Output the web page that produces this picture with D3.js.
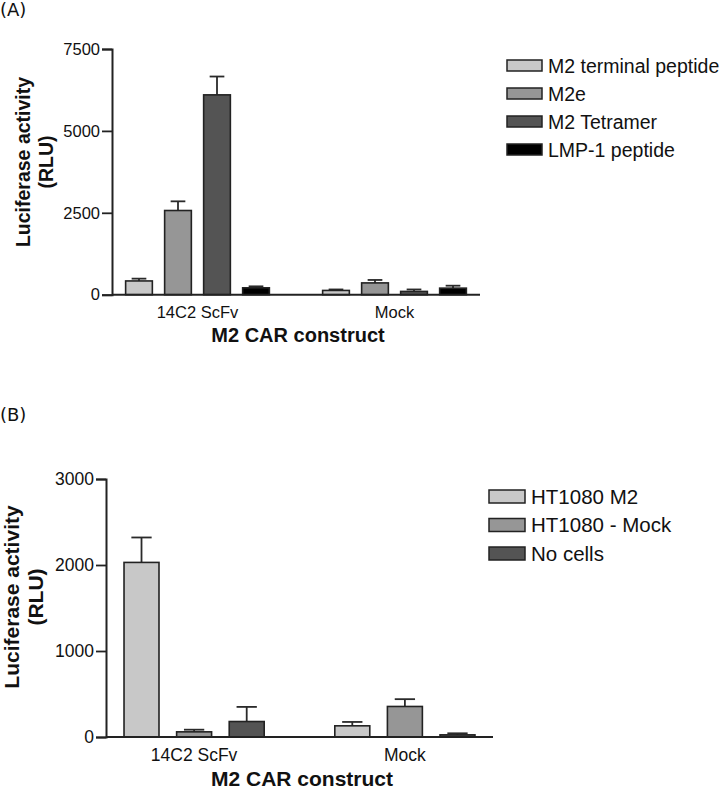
<!DOCTYPE html>
<html><head><meta charset="utf-8">
<script src="https://cdn.jsdelivr.net/npm/d3@7"></script>
<style>body{margin:0;background:#fff}svg{display:block}</style>
</head><body>
<script>
// ---- Data ----
const groups = ["14C2 ScFv", "Mock"];
const seriesA = ["M2 terminal peptide", "M2e", "M2 Tetramer", "LMP-1 peptide"];
const valuesA = [[420, 2570, 6100, 210], [130, 360, 100, 200]];
const errorsA = [[70, 280, 560, 45], [30, 90, 60, 75]];
const ticksA = [0, 2500, 5000, 7500];
const colorsA = ["#c8c8c8", "#969696", "#545454", "#000000"];

const seriesB = ["HT1080 M2", "HT1080 - Mock", "No cells"];
const valuesB = [[2030, 60, 180], [130, 355, 25]];
const errorsB = [[290, 25, 170], [45, 85, 18]];
const ticksB = [0, 1000, 2000, 3000];
const colorsB = ["#c8c8c8", "#969696", "#545454"];

const W = 722, H = 789;
const svg = d3.select("body").append("svg").attr("width", W).attr("height", H);
const FONT = "'Liberation Sans', Arial, sans-serif";

function panel(cfg) {
  const g = svg.append("g");
  const y = d3.scaleLinear().domain([0, cfg.max]).range([cfg.y0, cfg.y1]);
  const x0 = d3.scaleBand().domain(groups).range([cfg.xL, cfg.xR])
    .paddingInner(cfg.pi).paddingOuter(cfg.po);
  const x1 = d3.scaleBand().domain(cfg.series).range([0, x0.bandwidth()])
    .paddingInner(cfg.ipi).paddingOuter(cfg.ipi / 2);

  // bars
  groups.forEach((grp, gi) => {
    cfg.series.forEach((s, si) => {
      const v = cfg.values[gi][si], e = cfg.errors[gi][si];
      const bx = x0(grp) + x1(s), bw = x1.bandwidth();
      const cx = bx + bw / 2, cw = bw * cfg.cap;
      // error bar
      g.append("line").attr("x1", cx).attr("x2", cx)
        .attr("y1", y(v)).attr("y2", y(v + e))
        .attr("stroke", "#2a2a2a").attr("stroke-width", 1.8);
      g.append("line").attr("x1", cx - cw / 2).attr("x2", cx + cw / 2)
        .attr("y1", y(v + e)).attr("y2", y(v + e))
        .attr("stroke", "#2a2a2a").attr("stroke-width", 1.8);
      g.append("rect").attr("x", bx).attr("y", y(v))
        .attr("width", bw).attr("height", y(0) - y(v))
        .attr("fill", cfg.colors[si]).attr("stroke", "#222").attr("stroke-width", 1.6);
    });
  });

  // y axis
  const ax = g.append("g").attr("transform", `translate(${cfg.xL},0)`)
    .call(d3.axisLeft(y).tickValues(cfg.ticks).tickSize(10).tickPadding(2).tickFormat(d3.format("d")));
  ax.select(".domain").attr("stroke", "#222").attr("stroke-width", 2);
  ax.selectAll(".tick line").attr("stroke", "#222").attr("stroke-width", 1.8);
  ax.selectAll(".tick text").attr("font-family", FONT).attr("font-size", cfg.fs.tick).attr("fill", "#111");
  // x baseline
  g.append("line").attr("x1", cfg.xL).attr("x2", cfg.xR).attr("y1", y(0)).attr("y2", y(0))
    .attr("stroke", "#222").attr("stroke-width", 2);

  // category labels
  groups.forEach(grp => {
    g.append("text").attr("x", x0(grp) + x0.bandwidth() / 2).attr("y", cfg.catY)
      .attr("text-anchor", "middle").attr("font-family", FONT).attr("font-size", cfg.fs.cat)
      .attr("fill", "#111").text(grp);
  });
  g.append("text").attr("x", cfg.titleX).attr("y", cfg.titleY).attr("text-anchor", "middle")
    .attr("font-family", FONT).attr("font-size", cfg.fs.title).attr("font-weight", "bold")
    .attr("fill", "#111").text("M2 CAR construct");

  // y label
  const yl = g.append("text").attr("transform", `translate(0,${cfg.ylabY}) rotate(-90)`)
    .attr("text-anchor", "middle").attr("font-family", FONT).attr("font-size", cfg.fs.ylab)
    .attr("font-weight", "bold").attr("fill", "#111");
  yl.append("tspan").attr("x", 0).attr("y", cfg.ylabX1).text("Luciferase activity");
  yl.append("tspan").attr("x", 0).attr("y", cfg.ylabX2).text("(RLU)");

  // legend
  cfg.series.forEach((s, i) => {
    const ly = cfg.legY + i * cfg.legStep;
    g.append("rect").attr("x", cfg.legX).attr("y", ly - cfg.legH / 2)
      .attr("width", cfg.legW).attr("height", cfg.legH)
      .attr("fill", cfg.colors[i]).attr("stroke", "#222").attr("stroke-width", 1.5);
    g.append("text").attr("x", cfg.legX + cfg.legW + 6).attr("y", ly)
      .attr("dy", "0.36em").attr("font-family", FONT).attr("font-size", cfg.fs.leg)
      .attr("fill", "#111").text(s);
  });

  // panel tag
  g.append("text").attr("x", 0).attr("y", cfg.tagY).attr("font-family", "'DejaVu Sans', sans-serif")
    .attr("font-size", 18).attr("fill", "#111").text(cfg.tag);
}

panel({
  tag: "(A)", tagY: 16,
  series: seriesA, values: valuesA, errors: errorsA, ticks: ticksA, colors: colorsA,
  max: 7500, y0: 294.7, y1: 49, xL: 112, xR: 480,
  pi: 0.208, po: 0.038, ipi: 0.315, cap: 0.55,
  catY: 318, titleX: 298, titleY: 342, ylabY: 162, ylabX1: 30, ylabX2: 53,
  legX: 507, legY: 65.5, legStep: 28, legW: 35, legH: 11,
  fs: { tick: 16.5, cat: 16.5, title: 20, ylab: 19.5, leg: 19.5 }
});

panel({
  tag: "(B)", tagY: 421,
  series: seriesB, values: valuesB, errors: errorsB, ticks: ticksB, colors: colorsB,
  max: 3000, y0: 737, y1: 479, xL: 106, xR: 493,
  pi: 0.2514, po: 0.0437, ipi: 0.335, cap: 0.58,
  catY: 761, titleX: 302, titleY: 786, ylabY: 597, ylabX1: 19, ylabX2: 43,
  legX: 489, legY: 496.5, legStep: 28.5, legW: 36, legH: 13,
  fs: { tick: 17.5, cat: 17.5, title: 21, ylab: 21, leg: 20.5 }
});
</script>
</body></html>
